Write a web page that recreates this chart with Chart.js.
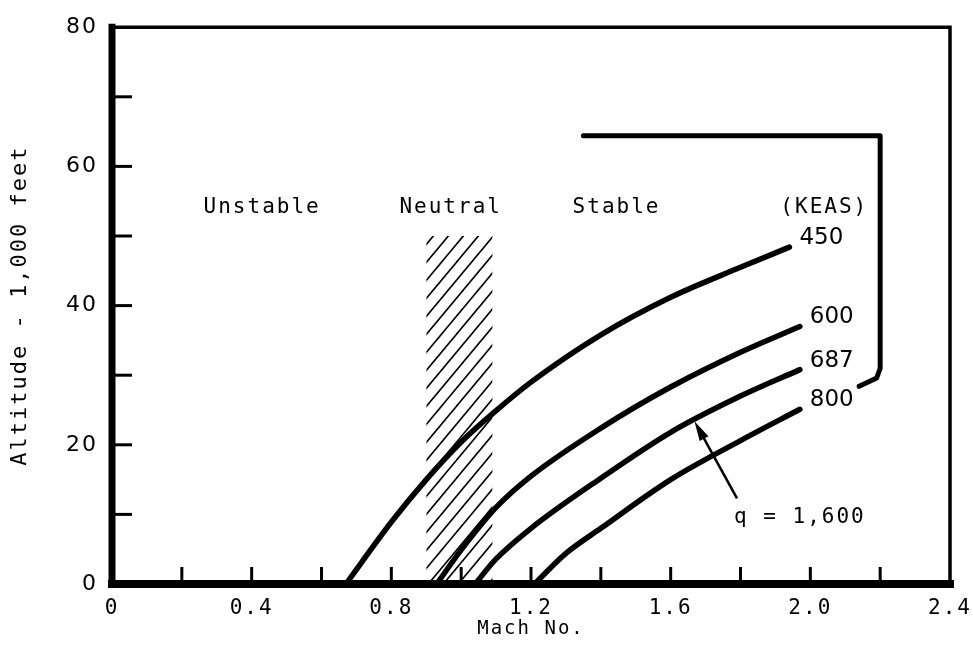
<!DOCTYPE html>
<html>
<head>
<meta charset="utf-8">
<script src="https://cdn.jsdelivr.net/npm/chart.js@4.4.0/dist/chart.umd.min.js"></script>
<style>
  html, body { margin: 0; padding: 0; background: #fff; }
  #wrap { width: 973px; height: 670px; }
</style>
</head>
<body>
<div id="wrap"><canvas id="chart" width="973" height="670"></canvas></div>
<script>
// constant-KEAS lines: Mach No. vs altitude (1,000 ft)
const mach450 = [0.67, 0.8, 0.9, 1.0, 1.1, 1.2, 1.4, 1.6, 1.8, 1.94];
const alt450  = [0, 8.9, 15.0, 20.4, 24.9, 29.0, 35.8, 41.2, 45.5, 48.4];
const mach600 = [0.93, 1.0, 1.1, 1.2, 1.4, 1.6, 1.8, 1.97];
const alt600  = [0, 4.9, 11.0, 15.5, 22.4, 28.3, 33.3, 37.0];
const mach687 = [1.04, 1.1, 1.2, 1.4, 1.6, 1.8, 1.97];
const alt687  = [0, 3.6, 8.0, 15.2, 21.8, 27.0, 30.8];
const mach800 = [1.21, 1.3, 1.4, 1.6, 1.8, 1.97];
const alt800  = [0, 4.4, 8.0, 15.0, 20.6, 25.1];
const keasLabels = ['450', '600', '687', '800'];

// neutral band (hatched)
const neutralMach = [0.9, 1.09];
const neutralAlt = [50, 50];

// bracket from the KEAS labels
const bracketMach = [1.35, 2.2, 2.2, 2.19, 2.14];
const bracketAlt  = [64.4, 64.4, 31.0, 29.6, 28.4];

// region headings
const regionLabels = ['Unstable', 'Neutral', 'Stable', '(KEAS)'];
const regionMach = [0.43, 0.97, 1.445, 2.04];
const regionAlt = 54.1;

// q = 1,600 arrow (tail -> tip) and label
const qArrowMach = [1.79, 1.668];
const qArrowAlt = [12.3, 23.4];
const qLabel = 'q = 1,600';
const qLabelPos = [1.97, 9.5];

// axes
const xMin = 0, xMax = 2.4, xStep = 0.2, xLabelEvery = 0.4;
const yMin = 0, yMax = 80, yStep = 10, yLabelEvery = 20;

const pts = (xs, ys) => xs.map((x, i) => ({ x, y: ys[i] }));
const mono = 'DejaVu Sans Mono';
const sans = 'DejaVu Sans';

const canvas = document.getElementById('chart');
const ctx0 = canvas.getContext('2d');

// diagonal hatch pattern (about 50 degrees)
const tile = document.createElement('canvas');
tile.width = 15; tile.height = 18;
const tc = tile.getContext('2d');
tc.strokeStyle = '#000';
tc.lineWidth = 1.7;
tc.beginPath();
tc.moveTo(-5, 24); tc.lineTo(20, -6);
tc.moveTo(-5, 6); tc.lineTo(5, -6);
tc.moveTo(10, 24); tc.lineTo(20, 12);
tc.stroke();
const hatch = ctx0.createPattern(tile, 'repeat');

function curve(xs, ys) {
  return {
    data: pts(xs, ys),
    showLine: true,
    borderColor: '#000',
    borderWidth: 5.5,
    borderCapStyle: 'round',
    pointRadius: 0,
    cubicInterpolationMode: 'monotone',
    order: 1
  };
}

const curves = [[mach450, alt450], [mach600, alt600], [mach687, alt687], [mach800, alt800]];

const frameAndText = {
  id: 'frameAndText',
  beforeDraw(chart) {
    chart.ctx.letterSpacing = '2px';
  },
  afterDatasetsDraw(chart) {
    const { ctx, chartArea: a, scales: { x, y } } = chart;
    ctx.save();
    ctx.strokeStyle = '#000';
    ctx.fillStyle = '#000';

    // inward ticks
    ctx.lineWidth = 3;
    x.ticks.forEach(t => {
      if (t.value <= xMin || t.value >= xMax) return;
      const px = x.getPixelForValue(t.value);
      ctx.beginPath(); ctx.moveTo(px, a.bottom); ctx.lineTo(px, a.bottom - 17); ctx.stroke();
    });
    y.ticks.forEach(t => {
      if (t.value <= yMin || t.value >= yMax) return;
      const py = y.getPixelForValue(t.value);
      ctx.beginPath(); ctx.moveTo(a.left, py); ctx.lineTo(a.left + 20, py); ctx.stroke();
    });

    // frame: heavy left/bottom, light top/right
    ctx.lineCap = 'square';
    ctx.lineWidth = 3.5;
    ctx.beginPath(); ctx.moveTo(a.left, a.top); ctx.lineTo(a.right, a.top); ctx.lineTo(a.right, a.bottom); ctx.stroke();
    ctx.lineWidth = 7;
    ctx.beginPath(); ctx.moveTo(a.left, a.top); ctx.lineTo(a.left, a.bottom); ctx.stroke();
    ctx.lineWidth = 8;
    ctx.beginPath(); ctx.moveTo(a.left, a.bottom); ctx.lineTo(a.right, a.bottom); ctx.stroke();

    // region headings
    ctx.font = '21px "' + mono + '"';
    ctx.textAlign = 'center';
    ctx.textBaseline = 'middle';
    regionLabels.forEach((s, i) => {
      ctx.fillText(s, x.getPixelForValue(regionMach[i]), y.getPixelForValue(regionAlt));
    });

    // curve labels at the curve ends
    ctx.font = '23px "' + sans + '"';
    ctx.letterSpacing = '0px';
    ctx.textAlign = 'left';
    curves.forEach((c, i) => {
      const xs = c[0], ys = c[1];
      const px = x.getPixelForValue(xs[xs.length - 1]);
      const py = y.getPixelForValue(ys[ys.length - 1]);
      ctx.fillText(keasLabels[i], px + 10, py - 9);
    });

    // q arrow
    const x0 = x.getPixelForValue(qArrowMach[0]), y0 = y.getPixelForValue(qArrowAlt[0]);
    const x1 = x.getPixelForValue(qArrowMach[1]), y1 = y.getPixelForValue(qArrowAlt[1]);
    const ang = Math.atan2(y1 - y0, x1 - x0);
    ctx.lineWidth = 2.5;
    ctx.lineCap = 'butt';
    ctx.beginPath(); ctx.moveTo(x0, y0); ctx.lineTo(x1 - 10 * Math.cos(ang), y1 - 10 * Math.sin(ang)); ctx.stroke();
    ctx.beginPath();
    ctx.moveTo(x1, y1);
    ctx.lineTo(x1 - 20 * Math.cos(ang) + 5 * Math.sin(ang), y1 - 20 * Math.sin(ang) - 5 * Math.cos(ang));
    ctx.lineTo(x1 - 20 * Math.cos(ang) - 5 * Math.sin(ang), y1 - 20 * Math.sin(ang) + 5 * Math.cos(ang));
    ctx.closePath(); ctx.fill();

    ctx.font = '21px "' + mono + '"';
    ctx.letterSpacing = '2px';
    ctx.textAlign = 'center';
    ctx.fillText(qLabel, x.getPixelForValue(qLabelPos[0]), y.getPixelForValue(qLabelPos[1]));
    ctx.restore();
  }
};

const onGrid = (v, every) => Math.abs(v / every - Math.round(v / every)) < 1e-6;

new Chart(canvas, {
  type: 'scatter',
  data: {
    datasets: [
      ...curves.map(c => curve(c[0], c[1])),
      {
        data: pts(bracketMach, bracketAlt),
        showLine: true,
        borderColor: '#000',
        borderWidth: 5,
        borderJoinStyle: 'round',
        borderCapStyle: 'round',
        pointRadius: 0,
        tension: 0,
        order: 2
      },
      {
        data: pts(neutralMach, neutralAlt),
        showLine: true,
        borderWidth: 0,
        borderColor: 'rgba(0,0,0,0)',
        backgroundColor: hatch,
        fill: 'origin',
        pointRadius: 0,
        order: 10
      }
    ]
  },
  options: {
    responsive: false,
    animation: false,
    devicePixelRatio: 1,
    layout: { padding: { top: 24, right: 23, left: 0, bottom: 0 } },
    plugins: { legend: { display: false }, tooltip: { enabled: false } },
    scales: {
      x: {
        type: 'linear', min: xMin, max: xMax,
        afterFit: s => { s.height = 86; s.paddingRight = 0; s.paddingLeft = 0; },
        grid: { display: false, drawTicks: false },
        border: { display: false },
        ticks: {
          stepSize: xStep, autoSkip: false, maxRotation: 0, padding: 12, color: '#000',
          font: { family: mono, size: 21 },
          callback: v => onGrid(v, xLabelEvery) ? (v === 0 ? '0' : v.toFixed(1)) : ''
        },
        title: {
          display: true, text: 'Mach No.', color: '#000',
          font: { family: mono, size: 19 },
          padding: { top: 0, bottom: 30 }
        }
      },
      y: {
        type: 'linear', min: yMin, max: yMax,
        afterFit: s => { s.width = 112; },
        grid: { display: false, drawTicks: false },
        border: { display: false },
        ticks: {
          stepSize: yStep, autoSkip: false, padding: 14, color: '#000',
          font: { family: sans, size: 22 },
          callback: v => onGrid(v, yLabelEvery) ? String(v) : ''
        },
        title: {
          display: true, text: 'Altitude - 1,000 feet', color: '#000',
          font: { family: mono, size: 22 },
          padding: { top: 7, bottom: 0 }
        }
      }
    }
  },
  plugins: [frameAndText]
});
</script>
</body>
</html>
